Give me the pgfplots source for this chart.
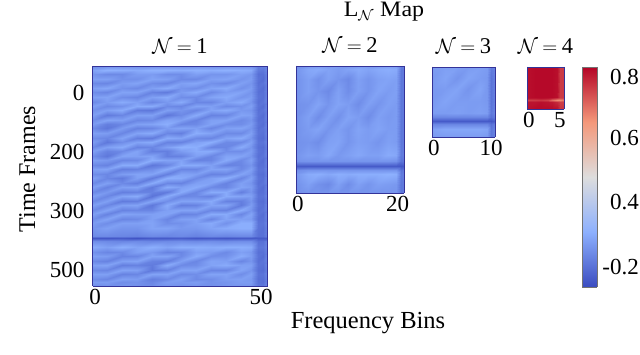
\documentclass[border=0pt]{standalone}
\usepackage{pgfplots}
\pgfplotsset{compat=1.18}
\usepackage{fontspec}
\setmainfont{Liberation Serif}
\pgfplotsset{colormap={cw}{rgb255=(58,76,192) rgb255=(141,176,254) rgb255=(221,221,221) rgb255=(244,152,122) rgb255=(180,4,38)}}
\pgfplotsset{hm/.style={
  scale only axis, view={0}{90}, colormap name=cw, point meta min=-0.25, point meta max=0.85,
  y dir=reverse, major tick length=0pt, axis line style={draw=black!50!blue!80, line width=0.35pt},
  axis on top, ytick=\empty,
  every tick label/.append style={inner sep=0pt, font=\fontsize{23}{24}\selectfont},
  xticklabel shift=3pt,
  title style={font=\fontsize{22.5}{24}\selectfont, at={(axis description cs:0.5,1)}, anchor=base, yshift=7pt, inner sep=0pt},
}}
\begin{document}
\begin{tikzpicture}
\path[use as bounding box] (0pt,0pt) rectangle (640pt,355pt);
\node[font=\fontsize{22}{24}\selectfont, inner sep=0pt, anchor=base, xscale=1.09] at (384pt,338pt) {L$_{\mathcal{N}}$ Map};
\node[font=\fontsize{24.5}{26}\selectfont, inner sep=0pt, anchor=base] at (368pt,26pt) {Frequency Bins};
\node[font=\fontsize{24}{26}\selectfont, inner sep=0pt, rotate=90, anchor=base] at (35pt,186pt) {Time Frames};

\begin{axis}[hm, at={(92.5pt,69pt)}, anchor=south west, width=175pt, height=219.5pt,
  xmin=-0.8, xmax=51.9, ymin=-75, ymax=545,
  xtick={0,50}, xticklabels={0,50}, ytick={0,167,333,500}, yticklabels={0,200,300,500},
  yticklabel shift=8pt, title={$\mathcal{N}\mkern4mu{=}\mkern4mu\mbox{1}$}]
\addplot3[surf, shader=interp, mesh/cols=15, mesh/rows=50] table[row sep=\\] {
x y z\\
-0.8 -75 -.07\\ 3.5 -75 -.06\\ 8 -75 -.06\\ 12.5 -75 -.06\\ 17 -75 -.06\\ 21.5 -75 -.06\\ 26 -75 -.06\\ 30.5 -75 -.06\\ 35 -75 -.06\\ 39.5 -75 -.06\\ 44 -75 -.06\\ 47 -75 -.06\\ 49 -75 -.12\\ 50.5 -75 -.11\\ 51.9 -75 -.08\\
-0.8 -65 -.01\\ 3.5 -65 .03\\ 8 -65 .02\\ 12.5 -65 .01\\ 17 -65 .03\\ 21.5 -65 .03\\ 26 -65 .02\\ 30.5 -65 .03\\ 35 -65 .02\\ 39.5 -65 .03\\ 44 -65 .02\\ 47 -65 .01\\ 49 -65 -.12\\ 50.5 -65 -.13\\ 51.9 -65 -.07\\
-0.8 -53 -.05\\ 3.5 -53 -.08\\ 8 -53 -.08\\ 12.5 -53 -.03\\ 17 -53 -.03\\ 21.5 -53 -.07\\ 26 -53 -.07\\ 30.5 -53 -.02\\ 35 -53 -.05\\ 39.5 -53 -.05\\ 44 -53 -.02\\ 47 -53 -.04\\ 49 -53 -.15\\ 50.5 -53 -.15\\ 51.9 -53 -.09\\
-0.8 -40 -.02\\ 3.5 -40 -.02\\ 8 -40 -.06\\ 12.5 -40 -.06\\ 17 -40 -.01\\ 21.5 -40 -.02\\ 26 -40 -.08\\ 30.5 -40 -.08\\ 35 -40 -.02\\ 39.5 -40 -.01\\ 44 -40 -.05\\ 47 -40 -.03\\ 49 -40 -.14\\ 50.5 -40 -.16\\ 51.9 -40 -.08\\
-0.8 -27 -.08\\ 3.5 -27 -.09\\ 8 -27 -.03\\ 12.5 -27 -.01\\ 17 -27 -.07\\ 21.5 -27 -.09\\ 26 -27 -.02\\ 30.5 -27 0\\ 35 -27 -.06\\ 39.5 -27 -.08\\ 44 -27 -.02\\ 47 -27 -.05\\ 49 -27 -.15\\ 50.5 -27 -.14\\ 51.9 -27 -.09\\
-0.8 -15 -.02\\ 3.5 -15 0\\ 8 -15 -.06\\ 12.5 -15 -.08\\ 17 -15 -.02\\ 21.5 -15 .01\\ 26 -15 -.05\\ 30.5 -15 -.07\\ 35 -15 -.01\\ 39.5 -15 .01\\ 44 -15 -.06\\ 47 -15 -.03\\ 49 -15 -.14\\ 50.5 -15 -.16\\ 51.9 -15 -.08\\
-0.8 -2 -.07\\ 3.5 -2 -.09\\ 8 -2 -.01\\ 12.5 -2 -.01\\ 17 -2 -.10\\ 21.5 -2 -.12\\ 26 -2 -.03\\ 30.5 -2 .01\\ 35 -2 -.08\\ 39.5 -2 -.03\\ 44 -2 -.01\\ 47 -2 -.05\\ 49 -2 -.15\\ 50.5 -2 -.15\\ 51.9 -2 -.09\\
-0.8 11 -.02\\ 3.5 11 -.01\\ 8 11 -.07\\ 12.5 11 -.09\\ 17 11 -.02\\ 21.5 11 .01\\ 26 11 -.07\\ 30.5 11 -.08\\ 35 11 -.01\\ 39.5 11 .01\\ 44 11 -.05\\ 47 11 -.03\\ 49 11 -.14\\ 50.5 11 -.15\\ 51.9 11 -.08\\
-0.8 24 -.08\\ 3.5 24 -.03\\ 8 24 .01\\ 12.5 24 -.02\\ 17 24 -.09\\ 21.5 24 -.04\\ 26 24 .01\\ 30.5 24 -.09\\ 35 24 -.09\\ 39.5 24 -.02\\ 44 24 .01\\ 47 24 -.05\\ 49 24 -.15\\ 50.5 24 -.14\\ 51.9 24 -.09\\
-0.8 36 -.02\\ 3.5 36 -.08\\ 8 36 -.06\\ 12.5 36 .01\\ 17 36 .01\\ 21.5 36 -.08\\ 26 36 -.09\\ 30.5 36 -.01\\ 35 36 -.02\\ 39.5 36 -.08\\ 44 36 -.06\\ 47 36 -.02\\ 49 36 -.14\\ 50.5 36 -.16\\ 51.9 36 -.08\\
-0.8 49 -.06\\ 3.5 49 -.02\\ 8 49 .01\\ 12.5 49 -.12\\ 17 49 -.13\\ 21.5 49 -.02\\ 26 49 -.05\\ 30.5 49 -.09\\ 35 49 -.01\\ 39.5 49 .01\\ 44 49 -.04\\ 47 49 -.05\\ 49 49 -.15\\ 50.5 49 -.14\\ 51.9 49 -.09\\
-0.8 62 -.02\\ 3.5 62 -.12\\ 8 62 -.09\\ 12.5 62 -.02\\ 17 62 -.02\\ 21.5 62 -.13\\ 26 62 -.08\\ 30.5 62 .01\\ 35 62 -.10\\ 39.5 62 -.09\\ 44 62 -.01\\ 47 62 -.02\\ 49 62 -.14\\ 50.5 62 -.16\\ 51.9 62 -.08\\
-0.8 75 -.07\\ 3.5 75 -.01\\ 8 75 -.02\\ 12.5 75 -.09\\ 17 75 -.08\\ 21.5 75 -.01\\ 26 75 -.02\\ 30.5 75 -.10\\ 35 75 -.02\\ 39.5 75 -.01\\ 44 75 -.08\\ 47 75 -.05\\ 49 75 -.15\\ 50.5 75 -.15\\ 51.9 75 -.09\\
-0.8 87 -.03\\ 3.5 87 -.11\\ 8 87 -.09\\ 12.5 87 -.02\\ 17 87 -.01\\ 21.5 87 .02\\ 26 87 -.09\\ 30.5 87 -.08\\ 35 87 -.01\\ 39.5 87 -.07\\ 44 87 -.07\\ 47 87 -.03\\ 49 87 -.14\\ 50.5 87 -.16\\ 51.9 87 -.08\\
-0.8 100 -.08\\ 3.5 100 -.13\\ 8 100 -.03\\ 12.5 100 -.10\\ 17 100 -.09\\ 21.5 100 -.03\\ 26 100 -.01\\ 30.5 100 -.02\\ 35 100 -.09\\ 39.5 100 -.02\\ 44 100 -.01\\ 47 100 -.05\\ 49 100 -.15\\ 50.5 100 -.14\\ 51.9 100 -.09\\
-0.8 113 -.02\\ 3.5 113 -.03\\ 8 113 -.09\\ 12.5 113 -.01\\ 17 113 .01\\ 21.5 113 -.09\\ 26 113 -.11\\ 30.5 113 .02\\ 35 113 -.01\\ 39.5 113 -.08\\ 44 113 -.08\\ 47 113 -.02\\ 49 113 -.14\\ 50.5 113 -.15\\ 51.9 113 -.08\\
-0.8 126 -.07\\ 3.5 126 -.09\\ 8 126 -.01\\ 12.5 126 -.11\\ 17 126 -.12\\ 21.5 126 .01\\ 26 126 -.01\\ 30.5 126 -.08\\ 35 126 -.09\\ 39.5 126 -.01\\ 44 126 .01\\ 47 126 -.05\\ 49 126 -.15\\ 50.5 126 -.16\\ 51.9 126 -.09\\
-0.8 138 -.03\\ 3.5 138 -.13\\ 8 138 -.07\\ 12.5 138 -.01\\ 17 138 .01\\ 21.5 138 -.10\\ 26 138 -.10\\ 30.5 138 -.02\\ 35 138 .02\\ 39.5 138 -.08\\ 44 138 -.08\\ 47 138 -.02\\ 49 138 -.14\\ 50.5 138 -.14\\ 51.9 138 -.08\\
-0.8 151 -.08\\ 3.5 151 -.02\\ 8 151 .01\\ 12.5 151 -.10\\ 17 151 -.09\\ 21.5 151 -.02\\ 26 151 .03\\ 30.5 151 .02\\ 35 151 -.09\\ 39.5 151 -.09\\ 44 151 .01\\ 47 151 -.05\\ 49 151 -.15\\ 50.5 151 -.16\\ 51.9 151 -.09\\
-0.8 164 -.02\\ 3.5 164 -.10\\ 8 164 -.08\\ 12.5 164 -.01\\ 17 164 -.11\\ 21.5 164 -.11\\ 26 164 -.03\\ 30.5 164 .01\\ 35 164 .01\\ 39.5 164 -.07\\ 44 164 -.07\\ 47 164 -.03\\ 49 164 -.14\\ 50.5 164 -.15\\ 51.9 164 -.08\\
-0.8 177 -.07\\ 3.5 177 -.13\\ 8 177 -.01\\ 12.5 177 -.02\\ 17 177 -.01\\ 21.5 177 -.11\\ 26 177 -.10\\ 30.5 177 -.02\\ 35 177 -.09\\ 39.5 177 -.01\\ 44 177 -.01\\ 47 177 -.05\\ 49 177 -.15\\ 50.5 177 -.14\\ 51.9 177 -.09\\
-0.8 189 -.02\\ 3.5 189 -.04\\ 8 189 -.09\\ 12.5 189 -.08\\ 17 189 .02\\ 21.5 189 -.01\\ 26 189 -.01\\ 30.5 189 -.10\\ 35 189 -.09\\ 39.5 189 .01\\ 44 189 -.08\\ 47 189 -.02\\ 49 189 -.14\\ 50.5 189 -.16\\ 51.9 189 -.08\\
-0.8 202 -.08\\ 3.5 202 -.10\\ 8 202 .01\\ 12.5 202 .01\\ 17 202 -.13\\ 21.5 202 -.09\\ 26 202 .01\\ 30.5 202 .01\\ 35 202 -.02\\ 39.5 202 -.10\\ 44 202 -.09\\ 47 202 -.05\\ 49 202 -.15\\ 50.5 202 -.15\\ 51.9 202 -.09\\
-0.8 215 -.02\\ 3.5 215 -.01\\ 8 215 -.11\\ 12.5 215 -.10\\ 17 215 -.07\\ 21.5 215 .01\\ 26 215 -.09\\ 30.5 215 -.09\\ 35 215 -.01\\ 39.5 215 -.01\\ 44 215 -.08\\ 47 215 -.02\\ 49 215 -.14\\ 50.5 215 -.14\\ 51.9 215 -.08\\
-0.8 228 -.07\\ 3.5 228 -.09\\ 8 228 -.03\\ 12.5 228 -.01\\ 17 228 -.01\\ 21.5 228 -.11\\ 26 228 -.01\\ 30.5 228 -.02\\ 35 228 -.10\\ 39.5 228 -.09\\ 44 228 -.01\\ 47 228 -.05\\ 49 228 -.15\\ 50.5 228 -.16\\ 51.9 228 -.09\\
-0.8 240 -.02\\ 3.5 240 -.09\\ 8 240 -.12\\ 12.5 240 -.02\\ 17 240 -.12\\ 21.5 240 .02\\ 26 240 .01\\ 30.5 240 -.08\\ 35 240 -.02\\ 39.5 240 .02\\ 44 240 -.09\\ 47 240 -.02\\ 49 240 -.14\\ 50.5 240 -.15\\ 51.9 240 -.08\\
-0.8 253 -.08\\ 3.5 253 -.02\\ 8 253 -.08\\ 12.5 253 -.11\\ 17 253 .01\\ 21.5 253 -.09\\ 26 253 -.10\\ 30.5 253 -.02\\ 35 253 -.01\\ 39.5 253 -.10\\ 44 253 -.02\\ 47 253 -.05\\ 49 253 -.15\\ 50.5 253 -.14\\ 51.9 253 -.09\\
-0.8 266 -.02\\ 3.5 266 -.10\\ 8 266 -.02\\ 12.5 266 -.01\\ 17 266 -.12\\ 21.5 266 .01\\ 26 266 -.02\\ 30.5 266 .01\\ 35 266 -.08\\ 39.5 266 -.09\\ 44 266 -.01\\ 47 266 -.03\\ 49 266 -.14\\ 50.5 266 -.16\\ 51.9 266 -.08\\
-0.8 279 -.08\\ 3.5 279 -.04\\ 8 279 -.11\\ 12.5 279 -.10\\ 17 279 -.10\\ 21.5 279 -.12\\ 26 279 .01\\ 30.5 279 -.09\\ 35 279 .01\\ 39.5 279 .01\\ 44 279 -.11\\ 47 279 -.05\\ 49 279 -.15\\ 50.5 279 -.15\\ 51.9 279 -.09\\
-0.8 291 -.02\\ 3.5 291 -.09\\ 8 291 -.01\\ 12.5 291 .01\\ 17 291 -.14\\ 21.5 291 .01\\ 26 291 -.09\\ 30.5 291 -.08\\ 35 291 -.10\\ 39.5 291 .01\\ 44 291 -.01\\ 47 291 -.02\\ 49 291 -.14\\ 50.5 291 -.14\\ 51.9 291 -.08\\
-0.8 304 -.08\\ 3.5 304 -.02\\ 8 304 -.12\\ 12.5 304 -.11\\ 17 304 -.01\\ 21.5 304 -.07\\ 26 304 -.01\\ 30.5 304 -.01\\ 35 304 .01\\ 39.5 304 -.10\\ 44 304 -.11\\ 47 304 -.05\\ 49 304 -.15\\ 50.5 304 -.16\\ 51.9 304 -.09\\
-0.8 317 -.02\\ 3.5 317 -.09\\ 8 317 -.02\\ 12.5 317 -.01\\ 17 317 -.13\\ 21.5 317 .01\\ 26 317 -.11\\ 30.5 317 -.10\\ 35 317 -.01\\ 39.5 317 -.01\\ 44 317 -.12\\ 47 317 -.03\\ 49 317 -.14\\ 50.5 317 -.15\\ 51.9 317 -.08\\
-0.8 330 -.08\\ 3.5 330 -.01\\ 8 330 -.10\\ 12.5 330 -.09\\ 17 330 -.09\\ 21.5 330 -.02\\ 26 330 -.01\\ 30.5 330 -.01\\ 35 330 -.09\\ 39.5 330 -.10\\ 44 330 .01\\ 47 330 -.05\\ 49 330 -.15\\ 50.5 330 -.14\\ 51.9 330 -.09\\
-0.8 342 -.02\\ 3.5 342 -.10\\ 8 342 -.01\\ 12.5 342 -.02\\ 17 342 -.02\\ 21.5 342 -.01\\ 26 342 -.10\\ 30.5 342 -.09\\ 35 342 .01\\ 39.5 342 .01\\ 44 342 -.09\\ 47 342 -.01\\ 49 342 -.14\\ 50.5 342 -.16\\ 51.9 342 -.08\\
-0.8 355 -.07\\ 3.5 355 -.01\\ 8 355 -.09\\ 12.5 355 -.08\\ 17 355 -.02\\ 21.5 355 -.09\\ 26 355 -.02\\ 30.5 355 -.01\\ 35 355 -.09\\ 39.5 355 -.01\\ 44 355 -.02\\ 47 355 -.03\\ 49 355 -.15\\ 50.5 355 -.15\\ 51.9 355 -.09\\
-0.8 368 -.03\\ 3.5 368 -.07\\ 8 368 -.02\\ 12.5 368 -.02\\ 17 368 -.01\\ 21.5 368 -.07\\ 26 368 -.06\\ 30.5 368 -.02\\ 35 368 .01\\ 39.5 368 -.06\\ 44 368 .02\\ 47 368 .02\\ 49 368 -.14\\ 50.5 368 -.14\\ 51.9 368 -.08\\
-0.8 381 -.05\\ 3.5 381 -.02\\ 8 381 -.05\\ 12.5 381 -.05\\ 17 381 -.01\\ 21.5 381 -.01\\ 26 381 -.04\\ 30.5 381 -.04\\ 35 381 -.01\\ 39.5 381 .01\\ 44 381 .02\\ 47 381 .02\\ 49 381 -.14\\ 50.5 381 -.15\\ 51.9 381 -.09\\
-0.8 403 -.08\\ 3.5 403 -.08\\ 8 403 -.09\\ 12.5 403 -.10\\ 17 403 -.08\\ 21.5 403 -.09\\ 26 403 -.08\\ 30.5 403 -.10\\ 35 403 -.08\\ 39.5 403 -.09\\ 44 403 -.08\\ 47 403 -.08\\ 49 403 -.15\\ 50.5 403 -.15\\ 51.9 403 -.10\\
-0.8 410 -.22\\ 3.5 410 -.22\\ 8 410 -.21\\ 12.5 410 -.23\\ 17 410 -.21\\ 21.5 410 -.21\\ 26 410 -.20\\ 30.5 410 -.22\\ 35 410 -.21\\ 39.5 410 -.22\\ 44 410 -.21\\ 47 410 -.21\\ 49 410 -.21\\ 50.5 410 -.21\\ 51.9 410 -.20\\
-0.8 417 -.07\\ 3.5 417 -.08\\ 8 417 -.09\\ 12.5 417 -.08\\ 17 417 -.09\\ 21.5 417 -.08\\ 26 417 -.07\\ 30.5 417 -.08\\ 35 417 -.07\\ 39.5 417 -.08\\ 44 417 -.07\\ 47 417 -.07\\ 49 417 -.15\\ 50.5 417 -.15\\ 51.9 417 -.09\\
-0.8 435 .01\\ 3.5 435 -.02\\ 8 435 .02\\ 12.5 435 -.01\\ 17 435 .02\\ 21.5 435 -.01\\ 26 435 .02\\ 30.5 435 .02\\ 35 435 .01\\ 39.5 435 .02\\ 44 435 .02\\ 47 435 .01\\ 49 435 -.13\\ 50.5 435 -.13\\ 51.9 435 -.08\\
-0.8 448 -.06\\ 3.5 448 -.09\\ 8 448 -.08\\ 12.5 448 -.02\\ 17 448 -.04\\ 21.5 448 -.10\\ 26 448 -.09\\ 30.5 448 -.02\\ 35 448 -.03\\ 39.5 448 -.08\\ 44 448 -.02\\ 47 448 -.04\\ 49 448 -.15\\ 50.5 448 -.15\\ 51.9 448 -.09\\
-0.8 461 -.02\\ 3.5 461 -.03\\ 8 461 -.10\\ 12.5 461 -.09\\ 17 461 -.01\\ 21.5 461 -.01\\ 26 461 -.08\\ 30.5 461 .01\\ 35 461 -.07\\ 39.5 461 -.06\\ 44 461 .01\\ 47 461 -.03\\ 49 461 -.14\\ 50.5 461 -.16\\ 51.9 461 -.08\\
-0.8 474 -.08\\ 3.5 474 -.10\\ 8 474 -.02\\ 12.5 474 -.01\\ 17 474 -.10\\ 21.5 474 -.11\\ 26 474 -.02\\ 30.5 474 -.09\\ 35 474 -.01\\ 39.5 474 -.02\\ 44 474 -.09\\ 47 474 -.05\\ 49 474 -.15\\ 50.5 474 -.14\\ 51.9 474 -.09\\
-0.8 486 -.02\\ 3.5 486 -.01\\ 8 486 -.11\\ 12.5 486 -.10\\ 17 486 -.12\\ 21.5 486 .01\\ 26 486 -.08\\ 30.5 486 -.07\\ 35 486 -.01\\ 39.5 486 .01\\ 44 486 -.02\\ 47 486 -.02\\ 49 486 -.14\\ 50.5 486 -.15\\ 51.9 486 -.08\\
-0.8 499 -.08\\ 3.5 499 -.09\\ 8 499 -.01\\ 12.5 499 -.02\\ 17 499 -.13\\ 21.5 499 -.10\\ 26 499 -.01\\ 30.5 499 -.01\\ 35 499 -.09\\ 39.5 499 -.09\\ 44 499 -.01\\ 47 499 -.05\\ 49 499 -.15\\ 50.5 499 -.16\\ 51.9 499 -.09\\
-0.8 512 -.02\\ 3.5 512 -.02\\ 8 512 -.10\\ 12.5 512 -.09\\ 17 512 -.01\\ 21.5 512 -.01\\ 26 512 -.08\\ 30.5 512 -.07\\ 35 512 -.01\\ 39.5 512 -.01\\ 44 512 -.07\\ 47 512 -.02\\ 49 512 -.14\\ 50.5 512 -.14\\ 51.9 512 -.08\\
-0.8 525 -.07\\ 3.5 525 -.09\\ 8 525 -.02\\ 12.5 525 -.03\\ 17 525 -.11\\ 21.5 525 -.08\\ 26 525 -.02\\ 30.5 525 -.08\\ 35 525 -.07\\ 39.5 525 -.03\\ 44 525 -.02\\ 47 525 -.04\\ 49 525 -.15\\ 50.5 525 -.15\\ 51.9 525 -.09\\
-0.8 535 -.03\\ 3.5 535 -.03\\ 8 535 -.07\\ 12.5 535 -.06\\ 17 535 -.09\\ 21.5 535 -.03\\ 26 535 -.04\\ 30.5 535 -.03\\ 35 535 -.06\\ 39.5 535 -.05\\ 44 535 -.03\\ 47 535 -.03\\ 49 535 -.14\\ 50.5 535 -.15\\ 51.9 535 -.08\\
-0.8 545 -.07\\ 3.5 545 -.06\\ 8 545 -.05\\ 12.5 545 -.06\\ 17 545 -.07\\ 21.5 545 -.05\\ 26 545 -.06\\ 30.5 545 -.05\\ 35 545 -.06\\ 39.5 545 -.05\\ 44 545 -.05\\ 47 545 -.05\\ 49 545 -.13\\ 50.5 545 -.13\\ 51.9 545 -.09\\
};
\end{axis}

\begin{axis}[hm, at={(296pt,162pt)}, anchor=south west, width=108pt, height=127pt,
  xmin=-0.4, xmax=21.3, ymin=0, ymax=250,
  xtick={0,20}, xticklabels={0,20}, title={$\mathcal{N}\mkern4mu{=}\mkern4mu\mbox{2}$}]
\addplot3[surf, shader=interp, mesh/cols=13, mesh/rows=15] table[row sep=\\] {
x y z\\
-0.4 0 -.06\\ 2 0 -.04\\ 4 0 -.03\\ 6 0 -.04\\ 8 0 -.03\\ 10 0 -.04\\ 12 0 -.03\\ 14 0 -.03\\ 16 0 -.03\\ 18 0 -.02\\ 19.7 0 -.03\\ 20.6 0 -.12\\ 21.3 0 -.11\\
-0.4 6 -.05\\ 2 6 0\\ 4 6 .01\\ 6 6 -.01\\ 8 6 -.03\\ 10 6 -.01\\ 12 6 .01\\ 14 6 -.01\\ 16 6 .01\\ 18 6 .02\\ 19.7 6 .01\\ 20.6 6 -.13\\ 21.3 6 -.12\\
-0.4 25 -.06\\ 2 25 -.02\\ 4 25 -.06\\ 6 25 -.02\\ 8 25 -.05\\ 10 25 -.08\\ 12 25 -.02\\ 14 25 -.05\\ 16 25 -.02\\ 18 25 -.01\\ 19.7 25 -.02\\ 20.6 25 -.13\\ 21.3 25 -.12\\
-0.4 50 -.06\\ 2 50 -.02\\ 4 50 -.05\\ 6 50 -.08\\ 8 50 -.02\\ 10 50 -.07\\ 12 50 -.02\\ 14 50 -.05\\ 16 50 -.01\\ 18 50 -.03\\ 19.7 50 -.02\\ 20.6 50 -.13\\ 21.3 50 -.12\\
-0.4 75 -.06\\ 2 75 -.05\\ 4 75 -.01\\ 6 75 -.05\\ 8 75 -.01\\ 10 75 -.03\\ 12 75 -.07\\ 14 75 -.02\\ 16 75 -.05\\ 18 75 -.02\\ 19.7 75 -.03\\ 20.6 75 -.13\\ 21.3 75 -.12\\
-0.4 100 -.06\\ 2 100 -.02\\ 4 100 -.07\\ 6 100 -.02\\ 8 100 -.06\\ 10 100 -.01\\ 12 100 -.03\\ 14 100 -.07\\ 16 100 -.02\\ 18 100 -.04\\ 19.7 100 -.03\\ 20.6 100 -.13\\ 21.3 100 -.12\\
-0.4 125 -.06\\ 2 125 -.03\\ 4 125 -.01\\ 6 125 -.05\\ 8 125 -.02\\ 10 125 -.05\\ 12 125 -.01\\ 14 125 -.03\\ 16 125 -.01\\ 18 125 -.03\\ 19.7 125 -.03\\ 20.6 125 -.13\\ 21.3 125 -.12\\
-0.4 150 -.06\\ 2 150 -.05\\ 4 150 -.07\\ 6 150 -.02\\ 8 150 -.01\\ 10 150 -.05\\ 12 150 -.02\\ 14 150 -.03\\ 16 150 -.05\\ 18 150 -.02\\ 19.7 150 -.03\\ 20.6 150 -.13\\ 21.3 150 -.12\\
-0.4 175 -.05\\ 2 175 -.02\\ 4 175 -.03\\ 6 175 0\\ 8 175 -.04\\ 10 175 -.02\\ 12 175 0\\ 14 175 -.02\\ 16 175 -.02\\ 18 175 .01\\ 19.7 175 0\\ 20.6 175 -.12\\ 21.3 175 -.11\\
-0.4 188 -.06\\ 2 188 -.05\\ 4 188 -.05\\ 6 188 -.05\\ 8 188 -.05\\ 10 188 -.05\\ 12 188 -.05\\ 14 188 -.05\\ 16 188 -.05\\ 18 188 -.05\\ 19.7 188 -.06\\ 20.6 188 -.14\\ 21.3 188 -.13\\
-0.4 196 -.21\\ 2 196 -.21\\ 4 196 -.21\\ 6 196 -.21\\ 8 196 -.21\\ 10 196 -.21\\ 12 196 -.21\\ 14 196 -.21\\ 16 196 -.21\\ 18 196 -.21\\ 19.7 196 -.21\\ 20.6 196 -.22\\ 21.3 196 -.21\\
-0.4 204 -.07\\ 2 204 -.05\\ 4 204 -.05\\ 6 204 -.05\\ 8 204 -.05\\ 10 204 -.05\\ 12 204 -.05\\ 14 204 -.05\\ 16 204 -.05\\ 18 204 -.05\\ 19.7 204 -.05\\ 20.6 204 -.14\\ 21.3 204 -.12\\
-0.4 213 -.04\\ 2 213 .01\\ 4 213 .02\\ 6 213 0\\ 8 213 .02\\ 10 213 .01\\ 12 213 .02\\ 14 213 .02\\ 16 213 .02\\ 18 213 .03\\ 19.7 213 .02\\ 20.6 213 -.12\\ 21.3 213 -.11\\
-0.4 233 -.06\\ 2 233 -.02\\ 4 233 -.06\\ 6 233 -.08\\ 8 233 -.02\\ 10 233 -.07\\ 12 233 -.02\\ 14 233 -.05\\ 16 233 -.02\\ 18 233 -.03\\ 19.7 233 -.04\\ 20.6 233 -.13\\ 21.3 233 -.12\\
-0.4 250 -.07\\ 2 250 -.05\\ 4 250 -.05\\ 6 250 -.05\\ 8 250 -.05\\ 10 250 -.05\\ 12 250 -.05\\ 14 250 -.05\\ 16 250 -.05\\ 18 250 -.05\\ 19.7 250 -.05\\ 20.6 250 -.13\\ 21.3 250 -.12\\
};
\end{axis}

\begin{axis}[hm, at={(432pt,218pt)}, anchor=south west, width=63pt, height=70pt,
  xmin=-0.35, xmax=10.7, ymin=0, ymax=125,
  xtick={0,10}, xticklabels={0,10}, title={$\mathcal{N}\mkern4mu{=}\mkern4mu\mbox{3}$}]
\addplot3[surf, shader=interp, mesh/cols=8, mesh/rows=10] table[row sep=\\] {
x y z\\
-0.35 0 -.03\\ 2 0 -.02\\ 4 0 -.02\\ 6 0 -.03\\ 8 0 -.02\\ 9.3 0 -.03\\ 10 0 -.12\\ 10.7 0 -.09\\
-0.35 20 -.04\\ 2 20 -.01\\ 4 20 -.05\\ 6 20 -.01\\ 8 20 -.03\\ 9.3 20 -.04\\ 10 20 -.14\\ 10.7 20 -.10\\
-0.35 40 -.04\\ 2 40 -.03\\ 4 40 -.01\\ 6 40 -.05\\ 8 40 -.01\\ 9.3 40 -.04\\ 10 40 -.14\\ 10.7 40 -.10\\
-0.35 60 -.04\\ 2 60 -.01\\ 4 60 -.03\\ 6 60 -.03\\ 8 60 -.03\\ 9.3 60 -.04\\ 10 60 -.14\\ 10.7 60 -.10\\
-0.35 82 -.03\\ 2 82 -.03\\ 4 82 -.02\\ 6 82 -.03\\ 8 82 -.02\\ 9.3 82 -.03\\ 10 82 -.13\\ 10.7 82 -.09\\
-0.35 90 -.09\\ 2 90 -.09\\ 4 90 -.09\\ 6 90 -.09\\ 8 90 -.09\\ 9.3 90 -.09\\ 10 90 -.15\\ 10.7 90 -.11\\
-0.35 96 -.21\\ 2 96 -.21\\ 4 96 -.21\\ 6 96 -.21\\ 8 96 -.21\\ 9.3 96 -.21\\ 10 96 -.22\\ 10.7 96 -.19\\
-0.35 102 -.09\\ 2 102 -.09\\ 4 102 -.09\\ 6 102 -.09\\ 8 102 -.09\\ 9.3 102 -.09\\ 10 102 -.15\\ 10.7 102 -.11\\
-0.35 110 -.02\\ 2 110 0\\ 4 110 0\\ 6 110 0\\ 8 110 0\\ 9.3 110 -.01\\ 10 110 -.13\\ 10.7 110 -.09\\
-0.35 125 -.04\\ 2 125 -.03\\ 4 125 -.03\\ 6 125 -.03\\ 8 125 -.03\\ 9.3 125 -.04\\ 10 125 -.13\\ 10.7 125 -.10\\
};
\end{axis}

\begin{axis}[hm, at={(527pt,246pt)}, anchor=south west, width=37pt, height=42pt,
  xmin=-0.3, xmax=5.65, ymin=0, ymax=60,
  xtick={0,5}, xticklabels={0,5}, title={$\mathcal{N}\mkern4mu{=}\mkern4mu\mbox{4}$}]
\addplot3[surf, shader=interp, mesh/cols=8, mesh/rows=6] table[row sep=\\] {
x y z\\
-0.3 0 .83\\ 1 0 .84\\ 2 0 .84\\ 3 0 .84\\ 3.8 0 .84\\ 4.6 0 .83\\ 5 0 .75\\ 5.65 0 .75\\
-0.3 43 .83\\ 1 43 .84\\ 2 43 .84\\ 3 43 .84\\ 3.8 43 .84\\ 4.6 43 .83\\ 5 43 .75\\ 5.65 43 .75\\
-0.3 45 .82\\ 1 45 .82\\ 2 45 .83\\ 3 45 .82\\ 3.8 45 .80\\ 4.6 45 .76\\ 5 45 .72\\ 5.65 45 .73\\
-0.3 47.5 .74\\ 1 47.5 .75\\ 2 47.5 .76\\ 3 47.5 .74\\ 3.8 47.5 .66\\ 4.6 47.5 .60\\ 5 47.5 .60\\ 5.65 47.5 .64\\
-0.3 50 .82\\ 1 50 .82\\ 2 50 .83\\ 3 50 .82\\ 3.8 50 .81\\ 4.6 50 .78\\ 5 50 .74\\ 5.65 50 .74\\
-0.3 60 .83\\ 1 60 .84\\ 2 60 .84\\ 3 60 .84\\ 3.8 60 .84\\ 4.6 60 .83\\ 5 60 .76\\ 5.65 60 .76\\
};
\end{axis}

\begin{axis}[scale only axis, view={0}{90}, colormap name=cw, point meta min=-0.25, point meta max=0.85,
  at={(582pt,68pt)}, anchor=south west, width=15pt, height=220pt,
  xmin=0, xmax=1, ymin=-0.25, ymax=0.85, xtick=\empty, major tick length=0pt,
  axis on top, axis line style={draw=black!55, line width=0.6pt},
  ytick={0.8,0.495,0.175,-0.15}, yticklabels={0.8,0.6,0.4,-0.2},
  ymajorticks=true, yticklabel pos=right,
  yticklabel style={anchor=east, inner sep=0pt, font=\fontsize{23}{24}\selectfont, xshift=42pt}]
\addplot3[surf, shader=interp, mesh/cols=2, mesh/rows=3] table[row sep=\\] {
x y z\\
0 -0.25 -0.25\\ 1 -0.25 -0.25\\
0 0.3 0.3\\ 1 0.3 0.3\\
0 0.85 0.85\\ 1 0.85 0.85\\
};
\end{axis}
\end{tikzpicture}
\end{document}
